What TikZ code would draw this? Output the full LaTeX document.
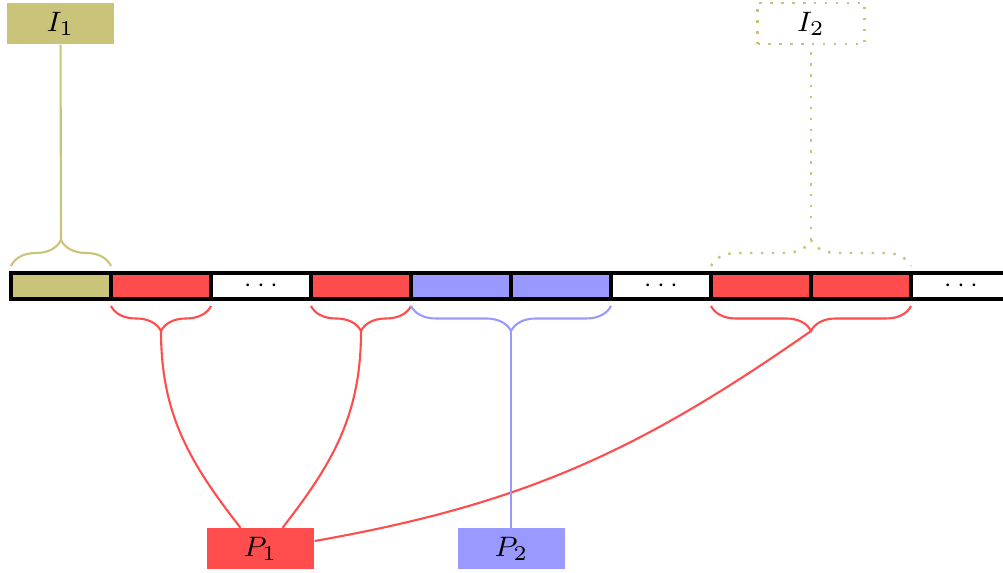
\documentclass[tikz,border=0pt]{standalone}
\usetikzlibrary{decorations.pathreplacing}
\definecolor{olv}{RGB}{202,196,122}
\definecolor{rd}{RGB}{255,77,77}
\definecolor{bl}{RGB}{153,153,255}
\begin{document}
\begin{tikzpicture}[
  cell/.style={draw=black, line width=0.9pt, minimum width=1cm, minimum height=0.26cm, inner sep=0pt, outer sep=0pt, font=\scriptsize},
  lbl/.style={minimum width=1.07cm, minimum height=0.41cm, inner sep=0pt, font=\footnotesize},
  brcup/.style={decorate, decoration={brace, amplitude=0.26cm}, semithick},
  brcdn/.style={decorate, decoration={brace, amplitude=0.25cm}, semithick},
  conn/.style={semithick},
  dotline/.style={dash pattern=on 0.7pt off 2.4pt, line width=0.7pt}
]
\useasboundingbox (0,0) rectangle (10.03,5.73);
% strip
\foreach \i/\c/\t in {0/olv/,1/rd/,2/white/$\cdots$,3/rd/,4/bl/,5/bl/,6/white/$\cdots$,7/rd/,8/rd/,9/white/$\cdots$}{
  \node[cell, fill=\c] (c\i) at (0.61+\i, 2.87) {\t};
}
% labels
\node[lbl, fill=olv] (I1) at (0.605, 5.495) {$I_1$};
\node[lbl, draw=olv, dotline] (I2) at (8.11, 5.495) {$I_2$};
\node[lbl, fill=rd] (P1) at (2.605, 0.24) {$P_1$};
\node[lbl, fill=bl] (P2) at (5.115, 0.24) {$P_2$};
% braces above
\draw[brcup, olv] ([yshift=0.07cm]c0.north west) -- ([yshift=0.07cm]c0.north east);
\coordinate (t0) at ([yshift=0.33cm]c0.north);
\draw[brcup, olv, dotline] ([yshift=0.07cm]c7.north west) -- ([yshift=0.07cm]c8.north east);
\coordinate (t78) at ([yshift=0.33cm]c7.north east);
% braces below
\draw[brcdn, rd] ([yshift=-0.07cm]c1.south east) -- ([yshift=-0.07cm]c1.south west);
\coordinate (b1) at ([yshift=-0.32cm]c1.south);
\draw[brcdn, rd] ([yshift=-0.07cm]c3.south east) -- ([yshift=-0.07cm]c3.south west);
\coordinate (b3) at ([yshift=-0.32cm]c3.south);
\draw[brcdn, bl] ([yshift=-0.07cm]c5.south east) -- ([yshift=-0.07cm]c4.south west);
\coordinate (b45) at ([yshift=-0.32cm]c4.south east);
\draw[brcdn, rd] ([yshift=-0.07cm]c8.south east) -- ([yshift=-0.07cm]c7.south west);
\coordinate (b78) at ([yshift=-0.32cm]c7.south east);
% connectors
\draw[conn, olv] (t0) -- (I1);
\draw[olv, dotline] (t78) -- (I2);
\draw[conn, rd] (b1) to[out=-90, in=128] ([xshift=-2mm]P1.north);
\draw[conn, rd] (b3) to[out=-90, in=52] ([xshift=2.2mm]P1.north);
\draw[conn, rd] (b78) to[out=-145, in=10] ([yshift=0.8mm]P1.east);
\draw[conn, bl] (b45) -- (b45 |- P2.north);
\end{tikzpicture}
\end{document}
